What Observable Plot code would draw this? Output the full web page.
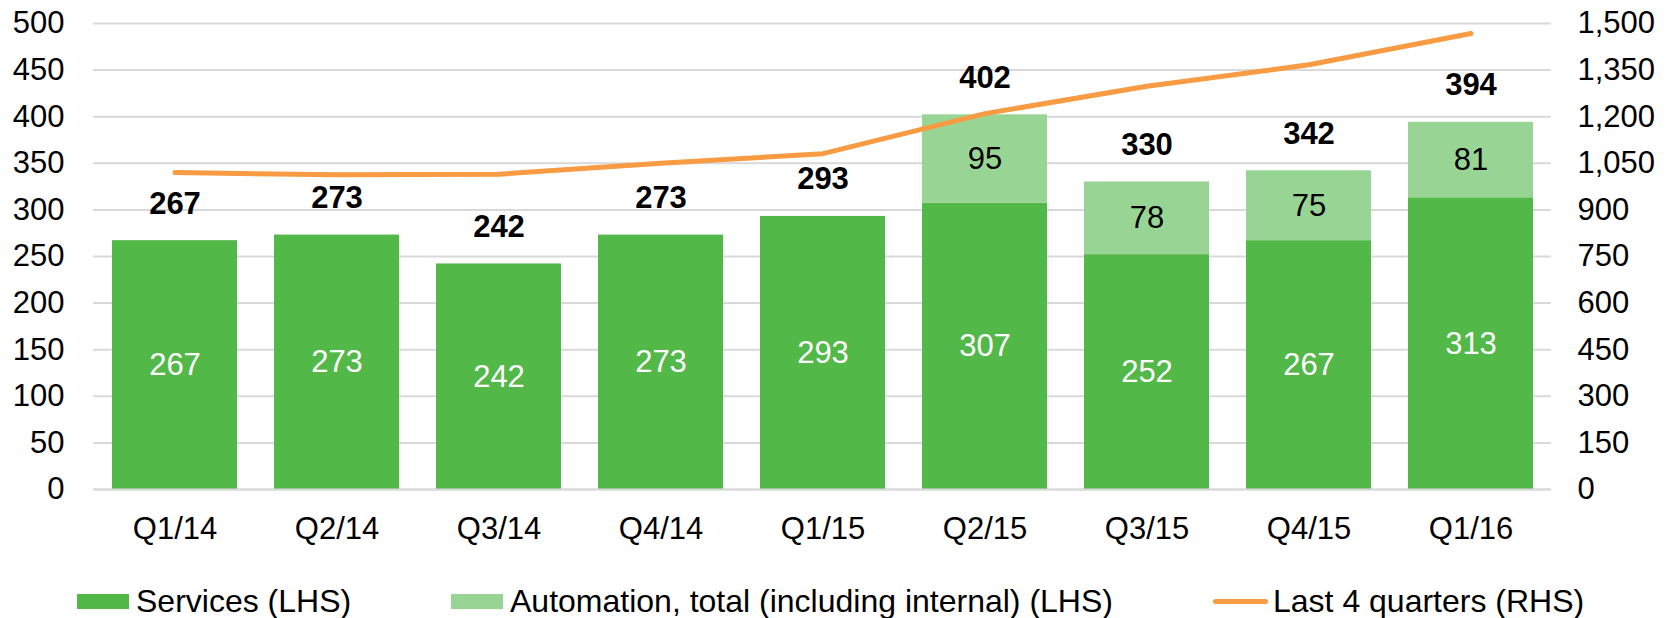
<!DOCTYPE html>
<html>
<head>
<meta charset="utf-8">
<script src="https://cdn.jsdelivr.net/npm/d3@7"></script>
<script src="https://cdn.jsdelivr.net/npm/@observablehq/plot@0.6"></script>
<style>
  html, body { margin: 0; padding: 0; background: #fff; }
  body { width: 1673px; height: 618px; overflow: hidden; font-family: "Liberation Sans", Arial, sans-serif; }
  #chart { position: relative; height: 555px; }
  #legend { position: relative; height: 63px; font-size: 32px; color: #000; }
  .item { position: absolute; top: 14px; display: flex; align-items: center; height: 64px; white-space: nowrap; }
  .sw { display: inline-block; width: 52px; height: 15px; margin-right: 7px; }
  .ln { display: inline-block; width: 55px; height: 5px; border-radius: 3px; margin-right: 5px; }
</style>
</head>
<body>
<div id="chart"></div>
<div id="legend"></div>
<script>
const quarters = ["Q1/14","Q2/14","Q3/14","Q4/14","Q1/15","Q2/15","Q3/15","Q4/15","Q1/16"];
const services = [267, 273, 242, 273, 293, 307, 252, 267, 313];
const automation = [0, 0, 0, 0, 0, 95, 78, 75, 81];
const last4q = [1020, 1013, 1015, 1050, 1081, 1210, 1298, 1367, 1468];
const leftTicks = [0, 50, 100, 150, 200, 250, 300, 350, 400, 450, 500];
const rhsFactor = 3; // RHS 0–1,500 maps onto LHS 0–500

const cServices = "#52b848";
const cAuto = "#98d595";
const cLine = "#f89b42";

const rows = quarters.map((q, i) => ({
  q, s: services[i], a: automation[i], total: services[i] + automation[i], l: last4q[i] / rhsFactor
}));
const stacked = [];
rows.forEach(r => {
  stacked.push({q: r.q, series: "Services (LHS)", v: r.s});
  stacked.push({q: r.q, series: "Automation, total (including internal) (LHS)", v: r.a});
});

const fmt = d3.format(",");
const FS = 31;
const chart = Plot.plot({
  width: 1673,
  height: 555,
  marginTop: 23,
  marginBottom: 66,
  marginLeft: 93,
  marginRight: 122,
  style: {fontFamily: "'Liberation Sans', Arial, sans-serif", fontSize: FS + "px", color: "#000", background: "#fff"},
  x: {domain: quarters, paddingInner: 0.23, paddingOuter: 0.115, label: null},
  y: {domain: [0, 500], label: null},
  color: {domain: ["Services (LHS)", "Automation, total (including internal) (LHS)"], range: [cServices, cAuto]},
  marks: [
    Plot.gridY(leftTicks, {stroke: "#d9d9d9", strokeOpacity: 1, strokeWidth: 2}),
    Plot.axisY(leftTicks, {anchor: "left", tickSize: 0, tickPadding: 29, fontSize: FS, label: null}),
    Plot.axisY(leftTicks, {anchor: "right", tickSize: 0, tickPadding: 26, fontSize: FS, label: null, textAnchor: "start",
      tickFormat: d => fmt(d * rhsFactor)}),
    Plot.axisX({tickSize: 0, tickPadding: 27, fontSize: FS, label: null}),
    Plot.barY(stacked, Plot.stackY({x: "q", y: "v", fill: "series", order: null})),
    Plot.ruleY([0], {stroke: "#d9d9d9", strokeWidth: 2}),
    Plot.text(rows, {x: "q", y: d => d.s / 2, text: d => String(d.s), fill: "#fff", fontSize: FS}),
    Plot.text(rows.filter(d => d.a > 0), {x: "q", y: d => d.s + d.a / 2, text: d => String(d.a), fill: "#000", fontSize: FS}),
    Plot.text(rows, {x: "q", y: "total", text: d => String(d.total), dy: -37, fill: "#000", fontSize: FS, fontWeight: "bold"}),
    Plot.line(rows, {x: "q", y: "l", stroke: cLine, strokeWidth: 5, strokeLinecap: "round", strokeLinejoin: "round"})
  ]
});
document.getElementById("chart").appendChild(chart);

const legendItems = [
  {label: "Services (LHS)", color: cServices, type: "sw", left: 77},
  {label: "Automation, total (including internal) (LHS)", color: cAuto, type: "sw", left: 451},
  {label: "Last 4 quarters (RHS)", color: cLine, type: "ln", left: 1213}
];
const legend = document.getElementById("legend");
legendItems.forEach(it => {
  const div = document.createElement("div");
  div.className = "item";
  div.style.left = it.left + "px";
  const sw = document.createElement("span");
  sw.className = it.type;
  sw.style.background = it.color;
  div.appendChild(sw);
  const t = document.createElement("span");
  t.textContent = it.label;
  div.appendChild(t);
  legend.appendChild(div);
});
</script>
</body>
</html>
